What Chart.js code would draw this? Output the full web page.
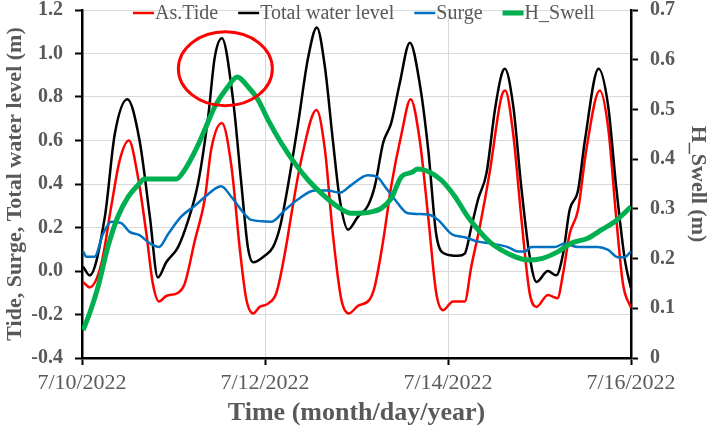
<!DOCTYPE html>
<html>
<head>
<meta charset="utf-8">
<script src="https://cdn.jsdelivr.net/npm/chart.js@4.4.1/dist/chart.umd.min.js"></script>
<style>
  html, body { margin: 0; padding: 0; background: #fff; }
  #wrap { width: 713px; height: 431px; }
</style>
</head>
<body>
<div id="wrap"><canvas id="chart" width="713" height="431"></canvas></div>
<script>
// hours since 7/10/2022 00:00
const xTickHours = [0, 48, 96, 144]
const xTickLabels = ["7/10/2022", "7/12/2022", "7/14/2022", "7/16/2022"]

const tideHours = [0.3, 2.0, 5.1, 7.7, 9.9, 12.3, 14.7, 16.9, 18.6, 20.2, 22.1, 25.2, 26.9, 29.6, 32.2, 33.9, 36.7,
  39.2, 41.4, 43.1, 44.9, 46.6, 48.8, 51.0, 53.2, 55.3, 57.5, 61.5, 63.7, 65.8, 68.0, 70.0, 72.4, 75.5, 76.8,
  79.0, 81.1, 83.8, 86.2, 88.6, 90.8, 92.9, 94.7, 97.3, 100.4, 102.1, 104.3, 106.9, 110.0, 111.0, 113.1, 115.2,
  117.4, 119.2, 122.2, 124.7, 126.2, 127.9, 130.1, 132.3, 135.8, 138.0, 140.1, 141.9, 144.0]
const tideLevels = [-0.05, -0.075, 0.035, 0.30, 0.51, 0.60, 0.43, 0.17, -0.06, -0.14, -0.115, -0.10, -0.06, 0.14, 0.33, 0.56, 0.68,
  0.48, 0.10, -0.13, -0.195, -0.165, -0.15, -0.10, 0.08, 0.30, 0.51, 0.74, 0.56, 0.17, -0.13, -0.195, -0.16, -0.13, -0.07,
  0.14, 0.39, 0.63, 0.79, 0.60, 0.25, -0.10, -0.18, -0.14, -0.14, 0.02, 0.20, 0.45, 0.80, 0.83, 0.63, 0.25,
  -0.10, -0.165, -0.11, -0.125, -0.01, 0.17, 0.28, 0.56, 0.83, 0.66, 0.25, -0.06, -0.17]

const totalHours = [0.3, 2.0, 6.0, 8.6, 11.9, 15.1, 17.8, 19.9, 22.1, 25.2, 27.8, 30.4, 33.1, 34.8, 36.7,
  39.6, 41.8, 43.5, 44.9, 47.9, 50.1, 51.9, 54.0, 56.7, 59.3, 61.6, 63.7, 65.8, 67.6, 69.8, 72.4, 75.0, 76.8,
  79.0, 81.1, 83.3, 86.0, 88.6, 90.8, 92.9, 95.1, 98.6, 100.4, 102.1, 103.9, 106.1, 108.3, 110.0, 110.9, 113.1,
  115.2, 117.4, 119.2, 122.2, 124.4, 126.2, 127.9, 130.1, 131.9, 135.5, 138.0, 140.1, 142.4, 144.0]
const totalLevels = [0.02, -0.02, 0.25, 0.63, 0.79, 0.60, 0.25, -0.03, 0.04, 0.11, 0.23, 0.40, 0.71, 0.98, 1.07,
  0.79, 0.40, 0.11, 0.04, 0.07, 0.11, 0.20, 0.39, 0.68, 0.98, 1.12, 0.94, 0.60, 0.33, 0.19, 0.25, 0.30, 0.39,
  0.59, 0.68, 0.86, 1.05, 0.86, 0.56, 0.17, 0.08, 0.07, 0.08, 0.20, 0.33, 0.45, 0.74, 0.90, 0.93, 0.76,
  0.39, 0.07, -0.05, 0.00, -0.02, 0.08, 0.28, 0.37, 0.60, 0.93, 0.76, 0.39, 0.05, -0.08]

const surgeHours = [0.3, 1.1, 3.3, 5.5, 7.7, 10.3, 12.5, 15.1, 17.8, 20.2, 22.6, 26.0, 29.6, 32.2, 36.5, 39.2,
  41.8, 44.4, 49.7, 53.2, 56.7, 61.0, 64.5, 67.6, 70.6, 75.0, 77.6, 79.4, 82.0, 85.5, 90.8, 93.4, 96.9, 100.4,
  103.9, 107.3, 111.7, 114.4, 116.1, 117.9, 124.0, 126.6, 130.1, 135.3, 138.0, 140.6, 142.3, 144.0]
const surgeLevels = [0.09, 0.066, 0.066, 0.17, 0.227, 0.22, 0.18, 0.165, 0.127, 0.11, 0.17, 0.25, 0.30, 0.34, 0.39, 0.34,
  0.28, 0.235, 0.227, 0.28, 0.33, 0.37, 0.37, 0.36, 0.395, 0.44, 0.43, 0.39, 0.33, 0.265, 0.26, 0.235, 0.17, 0.155,
  0.135, 0.127, 0.11, 0.09, 0.09, 0.11, 0.11, 0.127, 0.11, 0.11, 0.097, 0.063, 0.063, 0.09]

const swellHours = [0.3, 2.0, 4.2, 6.8, 9.4, 12.1, 14.7, 16.4, 24.7, 26.9, 29.6, 32.2, 34.8, 38.3, 40.7, 43.5,
  46.2, 48.8, 52.3, 55.8, 59.3, 62.8, 67.1, 70.6, 75.9, 78.5, 81.1, 83.8, 86.4, 88.1, 90.8, 94.2, 97.8, 101.2,
  104.7, 107.3, 112.6, 117.0, 120.5, 124.9, 128.3, 132.7, 136.2, 139.7, 144.0]
const swellHeights = [0.056, 0.09, 0.143, 0.224, 0.284, 0.324, 0.348, 0.36, 0.36, 0.378, 0.415, 0.459, 0.505, 0.546, 0.565, 0.546,
  0.519, 0.479, 0.432, 0.392, 0.358, 0.331, 0.304, 0.291, 0.294, 0.301, 0.321, 0.365, 0.373, 0.38, 0.375, 0.358, 0.325, 0.284,
  0.251, 0.231, 0.207, 0.197, 0.20, 0.214, 0.231, 0.241, 0.2575, 0.274, 0.304]

const toPoints = (hours, values) => hours.map((h, i) => ({ x: h, y: values[i] }))

const serif = "'Liberation Serif', 'Times New Roman', serif"
const textGray = "#595959"

// legend drawn over the top of the plot, like the original
const topLegend = {
  id: "topLegend",
  afterDraw(chart) {
    const ctx = chart.ctx
    let x = 133
    const y = 13
    ctx.save()
    ctx.font = "20px " + serif
    ctx.textBaseline = "middle"
    chart.data.datasets.forEach((ds) => {
      ctx.strokeStyle = ds.borderColor
      ctx.lineWidth = ds.borderWidth
      ctx.beginPath()
      ctx.moveTo(x, y)
      ctx.lineTo(x + 21, y)
      ctx.stroke()
      x += 22
      ctx.fillStyle = textGray
      ctx.fillText(ds.label, x, y + 1)
      x += ctx.measureText(ds.label).width + 20
    })
    ctx.restore()
  },
}

// red ring around the first big peak
const peakRing = {
  id: "peakRing",
  afterDatasetsDraw(chart) {
    const { ctx, scales } = chart
    const cx = scales.x.getPixelForValue(37.6)
    const cy = scales.y.getPixelForValue(0.93)
    ctx.save()
    ctx.strokeStyle = "#ff0000"
    ctx.lineWidth = 3
    ctx.beginPath()
    ctx.ellipse(cx, cy, 47, 37, 0, 0, Math.PI * 2)
    ctx.stroke()
    ctx.restore()
  },
}

// fixed axis box widths; end labels may stick out past the plot
const fitVertical = (s) => {
  s.width = 82
  s.paddingTop = 0
  s.paddingBottom = 0
}

const ctx = document.getElementById("chart").getContext("2d")
new Chart(ctx, {
  type: "line",
  data: {
    datasets: [
      { label: "As.Tide", data: toPoints(tideHours, tideLevels), borderColor: "#ff0000", borderWidth: 2.5, yAxisID: "y", order: 4 },
      { label: "Total water level", data: toPoints(totalHours, totalLevels), borderColor: "#000000", borderWidth: 2.5, yAxisID: "y", order: 3 },
      { label: "Surge", data: toPoints(surgeHours, surgeLevels), borderColor: "#0070c0", borderWidth: 2.5, yAxisID: "y", order: 2 },
      { label: "H_Swell", data: toPoints(swellHours, swellHeights), borderColor: "#00b050", borderWidth: 5, yAxisID: "y1", order: 1 },
    ],
  },
  options: {
    responsive: false,
    animation: false,
    layout: { padding: { top: 10, left: 0, right: 0, bottom: 0 } },
    elements: {
      point: { radius: 0 },
      line: { cubicInterpolationMode: "monotone", fill: false },
    },
    plugins: {
      legend: { display: false },
      tooltip: { enabled: false },
    },
    scales: {
      x: {
        type: "linear",
        min: 0,
        max: 144,
        afterBuildTicks: (s) => { s.ticks = xTickHours.map((v) => ({ value: v })) },
        afterFit: (s) => { s.height = 73 },
        ticks: {
          autoSkip: false,
          maxRotation: 0,
          padding: 5,
          color: textGray,
          font: { family: serif, size: 22 },
          callback: (v) => xTickLabels[xTickHours.indexOf(v)],
        },
        grid: { color: "#d9d9d9", lineWidth: 1, tickColor: "#000", tickWidth: 2, tickLength: 7 },
        border: { color: "#000", width: 2.5 },
        title: {
          display: true,
          text: "Time (month/day/year)",
          color: textGray,
          font: { family: serif, size: 26, weight: "bold" },
          padding: { top: 0, bottom: 2 },
        },
      },
      y: {
        position: "left",
        min: -0.4,
        max: 1.2,
        afterFit: fitVertical,
        ticks: {
          stepSize: 0.2,
          padding: 12,
          color: textGray,
          font: { family: serif, size: 20, weight: "bold" },
          callback: (v) => v.toFixed(1),
        },
        grid: { color: "#d9d9d9", lineWidth: 1, tickColor: "#000", tickWidth: 2, tickLength: 7 },
        border: { color: "#000", width: 2.5 },
        title: {
          display: true,
          text: "Tide, Surge, Total water level (m)",
          color: textGray,
          font: { family: serif, size: 22, weight: "bold" },
          padding: { top: 2, bottom: 0 },
        },
      },
      y1: {
        position: "right",
        min: 0,
        max: 0.7,
        afterFit: fitVertical,
        ticks: {
          stepSize: 0.1,
          padding: 12,
          color: textGray,
          font: { family: serif, size: 20, weight: "bold" },
          callback: (v) => (v === 0 ? "0" : v.toFixed(1)),
        },
        grid: { drawOnChartArea: false, tickColor: "#000", tickWidth: 2, tickLength: 7 },
        border: { color: "#000", width: 2.5 },
        title: {
          display: true,
          text: "H_Swell (m)",
          color: textGray,
          font: { family: serif, size: 22, weight: "bold" },
          padding: { top: 2, bottom: 0 },
        },
      },
    },
  },
  plugins: [topLegend, peakRing],
})
</script>
</body>
</html>
